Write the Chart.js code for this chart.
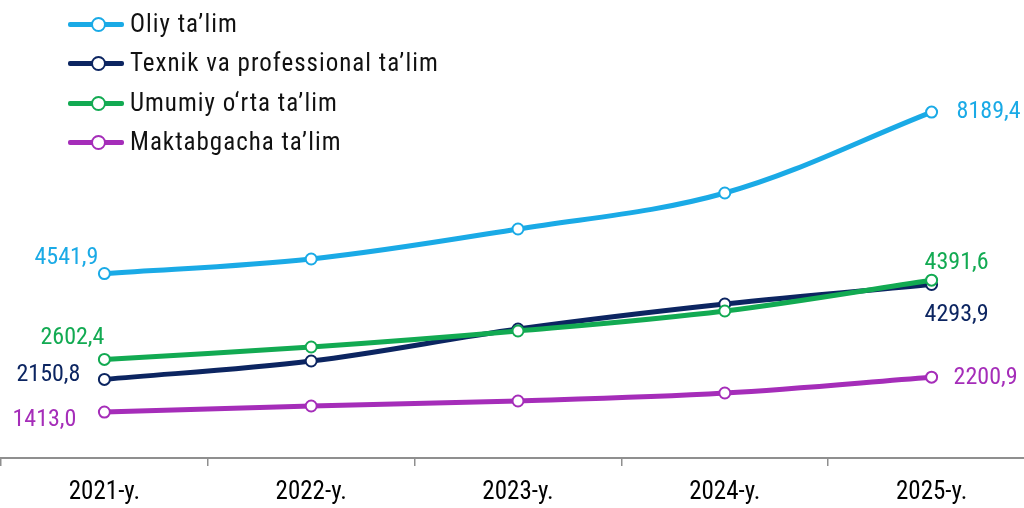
<!DOCTYPE html>
<html><head><meta charset="utf-8">
<script src="https://cdn.jsdelivr.net/npm/chart.js@4.4.1/dist/chart.umd.min.js"></script>
<style>
html,body{margin:0;padding:0;background:#fff;overflow:hidden;width:1024px;height:508px;}
#wrap{position:absolute;left:0;top:0;width:1036px;height:508px;}
#legend{position:absolute;left:0;top:0;}
.row{position:absolute;left:0;height:30px;width:500px;}
.ln{position:absolute;left:68px;width:56px;height:5px;border-radius:2px;}
.dot{position:absolute;left:91px;width:11px;height:11px;border-radius:50%;background:#fff;border:2px solid;}
.tx{position:absolute;left:130px;font-size:25px;letter-spacing:1px;color:#111;white-space:nowrap;line-height:30px;top:0;}
.ff{font-family:'Roboto Condensed','Liberation Sans Narrow','Arial Narrow','DejaVu Sans Condensed',Roboto,sans-serif;}
</style></head>
<body>
<div id="wrap"><canvas id="c" width="1036" height="508"></canvas></div>
<div id="legend" class="ff"></div>
<script>
const categories = ['2021-y.', '2022-y.', '2023-y.', '2024-y.', '2025-y.'];
const seriesNames = ['Oliy ta\u2019lim', 'Texnik va professional ta\u2019lim', 'Umumiy o\u2018rta ta\u2019lim', 'Maktabgacha ta\u2019lim'];
const oliy = [4541.9, 4870, 5548, 6361, 8189.4];
const texnik = [2150.8, 2566, 3289, 3854, 4293.9];
const umumiy = [2602.4, 2882, 3244, 3696, 4391.6];
const maktab = [1413.0, 1550, 1663, 1843, 2200.9];
const colors = ['#1AAAE6', '#0C2561', '#12AA52', '#A52DB9'];

const FONT = "'Roboto Condensed','Liberation Sans Narrow','Arial Narrow','DejaVu Sans Condensed',Roboto,sans-serif";

// label placement: [index, align, dx, dy]
const labelPlaces = [
  [[0,'right',-6,-16],[4,'left',25,0]],
  [[0,'right',-24,-4],[4,'center',25,30]],
  [[0,'right',0,-21],[4,'center',25,-17]],
  [[0,'right',-28,8],[4,'left',22,1]]
];
const fmt = v => v.toFixed(1).replace('.', ',');

const dataLabels = {
  id:'dataLabels',
  afterDatasetsDraw(chart){
    const ctx = chart.ctx;
    ctx.save();
    ctx.font = '24px ' + FONT;
    ctx.textBaseline = 'middle';
    chart.data.datasets.forEach((ds, di) => {
      const meta = chart.getDatasetMeta(di);
      labelPlaces[di].forEach(([i, al, dx, dy]) => {
        const p = meta.data[i];
        ctx.fillStyle = colors[di];
        ctx.textAlign = al;
        ctx.fillText(fmt(ds.data[i]), p.x + dx, p.y + dy);
      });
    });
    ctx.restore();
  }
};

const allSeries = [oliy, texnik, umumiy, maktab];
const datasets = allSeries.map((d, i) => ({
  label: seriesNames[i],
  data: d,
  borderColor: colors[i],
  backgroundColor: '#fff',
  borderWidth: 5,
  tension: 0.35,
  pointRadius: 5.5,
  pointBorderWidth: 2,
  pointBackgroundColor: '#fff',
  pointBorderColor: colors[i],
  order: i === 2 ? 0 : (i === 1 ? 1 : 2)
}));

new Chart(document.getElementById('c'), {
  type: 'line',
  data: { labels: categories, datasets },
  options: {
    responsive: false,
    animation: false,
    layout: { autoPadding: false, padding: { left: 1, right: 1, top: 0, bottom: 0 } },
    plugins: { legend: { display: false }, tooltip: { enabled: false } },
    scales: {
      x: {
        offset: true,
        grid: { display: true, drawOnChartArea: false, drawTicks: true, tickLength: 8, color: '#8f8f8f', lineWidth: 1.5, offset: true },
        border: { display: true, color: '#8f8f8f', width: 2 },
        ticks: { color: '#000', font: { family: FONT, size: 25 }, padding: 12, maxRotation: 0 },
        afterFit: s => { s.height = 50; }
      },
      y: { display: false, min: 375, max: 10721 }
    }
  },
  plugins: [dataLabels]
});

// legend
const lg = document.getElementById('legend');
const rowY = [24, 63, 103, 142];
seriesNames.forEach((n, i) => {
  const r = document.createElement('div');
  r.className = 'row';
  r.style.top = (rowY[i] - 15) + 'px';
  r.innerHTML = `<div class="ln" style="top:12.5px;background:${colors[i]}"></div>` +
    `<div class="dot" style="top:7.5px;border-color:${colors[i]}"></div>` +
    `<div class="tx ff">${n}</div>`;
  lg.appendChild(r);
});
</script>
</body></html>
